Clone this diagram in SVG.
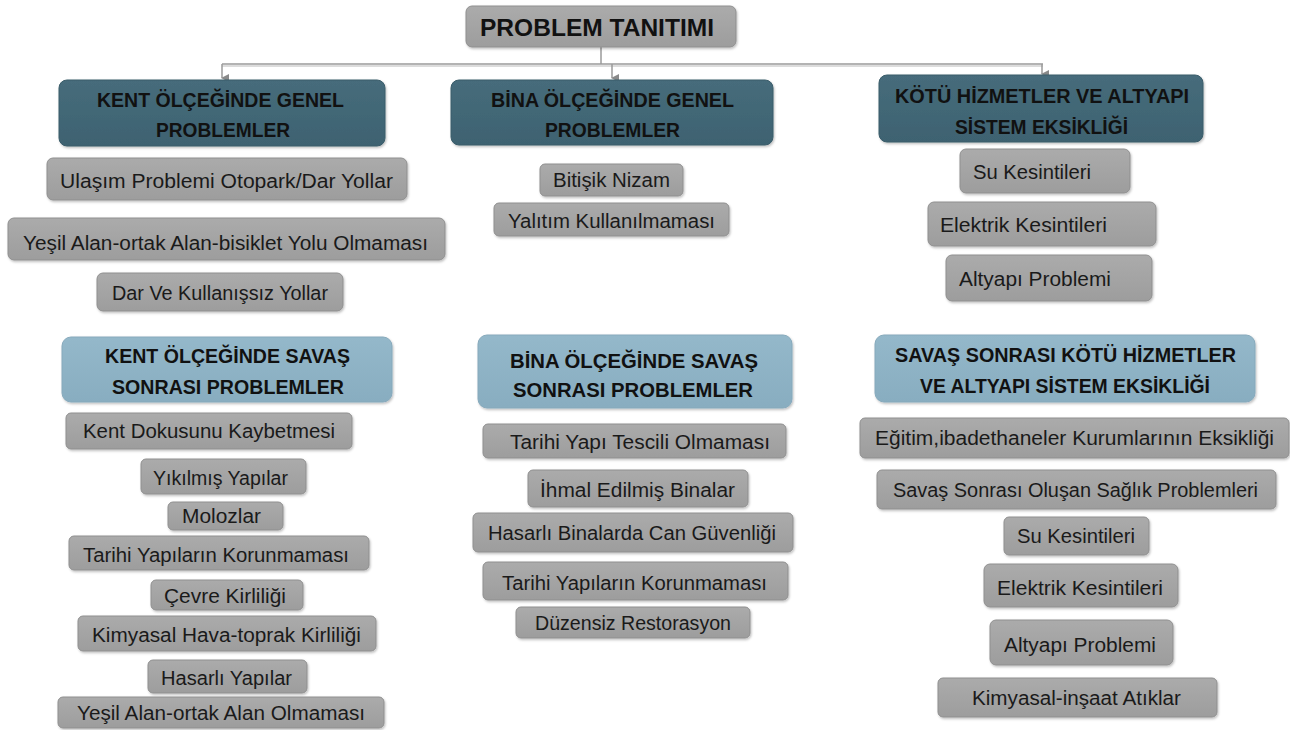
<svg xmlns="http://www.w3.org/2000/svg" width="1290" height="730" viewBox="0 0 1290 730">
<defs>
<linearGradient id="gGrey" x1="0" y1="0" x2="0" y2="1"><stop offset="0" stop-color="#ababab"/><stop offset="1" stop-color="#9d9d9d"/></linearGradient>
<linearGradient id="gDark" x1="0" y1="0" x2="0" y2="1"><stop offset="0" stop-color="#466c7b"/><stop offset="1" stop-color="#3e6271"/></linearGradient>
<linearGradient id="gLight" x1="0" y1="0" x2="0" y2="1"><stop offset="0" stop-color="#94b8ca"/><stop offset="1" stop-color="#88adc0"/></linearGradient>
<filter id="sh" x="-5%" y="-10%" width="110%" height="130%"><feDropShadow dx="1" dy="1.5" stdDeviation="1.2" flood-color="#000" flood-opacity="0.25"/></filter>
<marker id="arr" markerWidth="8" markerHeight="8" refX="4" refY="7" orient="auto" markerUnits="userSpaceOnUse" viewBox="0 0 8 8"><path d="M0,0 L8,0 L4,8 Z" fill="#8a8a8a"/></marker>
</defs>
<style>
.gr{fill:url(#gGrey);stroke:#8f8f8f;stroke-width:1;filter:url(#sh)}
.dk{fill:url(#gDark);stroke:#3a5c6a;stroke-width:1;filter:url(#sh)}
.lb{fill:url(#gLight);stroke:#86a9bb;stroke-width:1;filter:url(#sh)}
.t{font-family:"Liberation Sans",Arial,sans-serif;font-size:19.5px;fill:#1a1a1a}
.h{font-family:"Liberation Sans",Arial,sans-serif;font-size:21px;font-weight:bold;fill:#111}
.top{font-family:"Liberation Sans",Arial,sans-serif;font-size:24px;font-weight:bold;fill:#111}
.c{fill:none;stroke:#9a9a9a;stroke-width:1.5}
.c2{fill:none;stroke:#d0d0d0;stroke-width:1.5}
</style>
<rect width="1290" height="730" fill="#ffffff"/>

<g id="connectors">
<path class="c" d="M601,47 V64"/>
<path class="c2" d="M222,66 H1043"/>
<path class="c" d="M222,64 H1043"/>
<path class="c" d="M222,64 V78" marker-end="url(#arr)"/>
<path class="c" d="M612,64 V78" marker-end="url(#arr)"/>
<path class="c" d="M1042,64 V74" marker-end="url(#arr)"/>
</g>

<g id="root">
<rect class="gr" x="466" y="6" width="270" height="41" rx="6"/>
<text class="top" x="480" y="36" textLength="234" lengthAdjust="spacingAndGlyphs">PROBLEM TANITIMI</text>
</g>

<g id="kent-genel">
<rect class="dk" x="59" y="80" width="326" height="66" rx="8"/>
<text class="h" x="97" y="107" textLength="247" lengthAdjust="spacingAndGlyphs">KENT ÖLÇEĞİNDE GENEL</text>
<text class="h" x="156" y="137" textLength="134" lengthAdjust="spacingAndGlyphs">PROBLEMLER</text>
</g>
<g id="bina-genel">
<rect class="dk" x="451" y="80" width="322" height="65" rx="8"/>
<text class="h" x="491" y="107" textLength="243" lengthAdjust="spacingAndGlyphs">BİNA ÖLÇEĞİNDE GENEL</text>
<text class="h" x="545" y="137" textLength="135" lengthAdjust="spacingAndGlyphs">PROBLEMLER</text>
</g>
<g id="kotu-hizmet">
<rect class="dk" x="879" y="75" width="324" height="67" rx="8"/>
<text class="h" x="895" y="103" textLength="294" lengthAdjust="spacingAndGlyphs">KÖTÜ HİZMETLER VE ALTYAPI</text>
<text class="h" x="955" y="134" textLength="173" lengthAdjust="spacingAndGlyphs">SİSTEM EKSİKLİĞİ</text>
</g>

<g id="ulasim"><rect class="gr" x="47" y="158" width="360" height="42" rx="6"/><text class="t" x="60" y="188" textLength="333" lengthAdjust="spacingAndGlyphs">Ulaşım Problemi Otopark/Dar Yollar</text></g>
<g id="yesil-bisiklet"><rect class="gr" x="8" y="218" width="437" height="42" rx="6"/><text class="t" x="23" y="250" textLength="405" lengthAdjust="spacingAndGlyphs">Yeşil Alan-ortak Alan-bisiklet Yolu Olmaması</text></g>
<g id="dar-yollar"><rect class="gr" x="97" y="273" width="246" height="38" rx="6"/><text class="t" x="112" y="300" textLength="216" lengthAdjust="spacingAndGlyphs">Dar Ve Kullanışsız Yollar</text></g>

<g id="bitisik"><rect class="gr" x="540" y="164" width="143" height="32" rx="5"/><text class="t" x="553" y="187" textLength="117" lengthAdjust="spacingAndGlyphs">Bitişik Nizam</text></g>
<g id="yalitim"><rect class="gr" x="494" y="203" width="235" height="33" rx="5"/><text class="t" x="508" y="228" textLength="207" lengthAdjust="spacingAndGlyphs">Yalıtım Kullanılmaması</text></g>

<g id="su-1"><rect class="gr" x="960" y="149" width="170" height="44" rx="6"/><text class="t" x="973" y="179" textLength="118" lengthAdjust="spacingAndGlyphs">Su Kesintileri</text></g>
<g id="elektrik-1"><rect class="gr" x="928" y="202" width="228" height="44" rx="6"/><text class="t" x="940" y="232" textLength="167" lengthAdjust="spacingAndGlyphs">Elektrik Kesintileri</text></g>
<g id="altyapi-1"><rect class="gr" x="946" y="255" width="206" height="46" rx="6"/><text class="t" x="959" y="286" textLength="152" lengthAdjust="spacingAndGlyphs">Altyapı Problemi</text></g>

<g id="kent-savas">
<rect class="lb" x="62" y="337" width="330" height="65" rx="9"/>
<text class="h" x="105" y="363" textLength="245" lengthAdjust="spacingAndGlyphs">KENT ÖLÇEĞİNDE SAVAŞ</text>
<text class="h" x="112" y="394" textLength="232" lengthAdjust="spacingAndGlyphs">SONRASI PROBLEMLER</text>
</g>
<g id="bina-savas">
<rect class="lb" x="478" y="335" width="314" height="73" rx="9"/>
<text class="h" x="510" y="368" textLength="248" lengthAdjust="spacingAndGlyphs">BİNA ÖLÇEĞİNDE SAVAŞ</text>
<text class="h" x="513" y="397" textLength="240" lengthAdjust="spacingAndGlyphs">SONRASI PROBLEMLER</text>
</g>
<g id="savas-hizmet">
<rect class="lb" x="875" y="335" width="380" height="67" rx="9"/>
<text class="h" x="895" y="362" textLength="341" lengthAdjust="spacingAndGlyphs">SAVAŞ SONRASI KÖTÜ HİZMETLER</text>
<text class="h" x="920" y="393" textLength="290" lengthAdjust="spacingAndGlyphs">VE ALTYAPI SİSTEM EKSİKLİĞİ</text>
</g>

<g id="kent-dokusu"><rect class="gr" x="66" y="413" width="286" height="36" rx="5"/><text class="t" x="83" y="438" textLength="252" lengthAdjust="spacingAndGlyphs">Kent Dokusunu Kaybetmesi</text></g>
<g id="yikilmis"><rect class="gr" x="141" y="459" width="165" height="35" rx="5"/><text class="t" x="153" y="485" textLength="135" lengthAdjust="spacingAndGlyphs">Yıkılmış Yapılar</text></g>
<g id="molozlar"><rect class="gr" x="168" y="502" width="115" height="28" rx="5"/><text class="t" x="182" y="523" textLength="79" lengthAdjust="spacingAndGlyphs">Molozlar</text></g>
<g id="tarihi-kent"><rect class="gr" x="69" y="536" width="300" height="34" rx="5"/><text class="t" x="83" y="562" textLength="266" lengthAdjust="spacingAndGlyphs">Tarihi Yapıların Korunmaması</text></g>
<g id="cevre"><rect class="gr" x="151" y="580" width="152" height="30" rx="5"/><text class="t" x="164" y="603" textLength="122" lengthAdjust="spacingAndGlyphs">Çevre Kirliliği</text></g>
<g id="kimyasal-hava"><rect class="gr" x="78" y="616" width="298" height="35" rx="5"/><text class="t" x="92" y="642" textLength="269" lengthAdjust="spacingAndGlyphs">Kimyasal Hava-toprak Kirliliği</text></g>
<g id="hasarli-yapilar"><rect class="gr" x="148" y="660" width="159" height="33" rx="5"/><text class="t" x="161" y="685" textLength="131" lengthAdjust="spacingAndGlyphs">Hasarlı Yapılar</text></g>
<g id="yesil-ortak"><rect class="gr" x="58" y="697" width="326" height="31" rx="5"/><text class="t" x="77" y="720" textLength="288" lengthAdjust="spacingAndGlyphs">Yeşil Alan-ortak Alan Olmaması</text></g>

<g id="tescil"><rect class="gr" x="483" y="424" width="303" height="34" rx="5"/><text class="t" x="510" y="449" textLength="260" lengthAdjust="spacingAndGlyphs">Tarihi Yapı Tescili Olmaması</text></g>
<g id="ihmal"><rect class="gr" x="528" y="470" width="220" height="37" rx="5"/><text class="t" x="540" y="497" textLength="195" lengthAdjust="spacingAndGlyphs">İhmal Edilmiş Binalar</text></g>
<g id="can-guvenligi"><rect class="gr" x="473" y="513" width="320" height="39" rx="5"/><text class="t" x="488" y="540" textLength="288" lengthAdjust="spacingAndGlyphs">Hasarlı Binalarda Can Güvenliği</text></g>
<g id="tarihi-bina"><rect class="gr" x="483" y="562" width="305" height="38" rx="5"/><text class="t" x="502" y="590" textLength="265" lengthAdjust="spacingAndGlyphs">Tarihi Yapıların Korunmaması</text></g>
<g id="restorasyon"><rect class="gr" x="516" y="607" width="234" height="31" rx="5"/><text class="t" x="535" y="630" textLength="196" lengthAdjust="spacingAndGlyphs">Düzensiz Restorasyon</text></g>

<g id="egitim"><rect class="gr" x="860" y="418" width="429" height="40" rx="5"/><text class="t" x="875" y="445" textLength="399" lengthAdjust="spacingAndGlyphs">Eğitim,ibadethaneler Kurumlarının Eksikliği</text></g>
<g id="saglik"><rect class="gr" x="877" y="470" width="399" height="39" rx="5"/><text class="t" x="893" y="497" textLength="365" lengthAdjust="spacingAndGlyphs">Savaş Sonrası Oluşan Sağlık Problemleri</text></g>
<g id="su-2"><rect class="gr" x="1004" y="517" width="145" height="38" rx="5"/><text class="t" x="1017" y="543" textLength="118" lengthAdjust="spacingAndGlyphs">Su Kesintileri</text></g>
<g id="elektrik-2"><rect class="gr" x="984" y="564" width="194" height="43" rx="6"/><text class="t" x="997" y="595" textLength="166" lengthAdjust="spacingAndGlyphs">Elektrik Kesintileri</text></g>
<g id="altyapi-2"><rect class="gr" x="990" y="620" width="183" height="45" rx="6"/><text class="t" x="1004" y="652" textLength="152" lengthAdjust="spacingAndGlyphs">Altyapı Problemi</text></g>
<g id="kimyasal-insaat"><rect class="gr" x="938" y="678" width="279" height="39" rx="5"/><text class="t" x="972" y="705" textLength="209" lengthAdjust="spacingAndGlyphs">Kimyasal-inşaat Atıklar</text></g>
</svg>
